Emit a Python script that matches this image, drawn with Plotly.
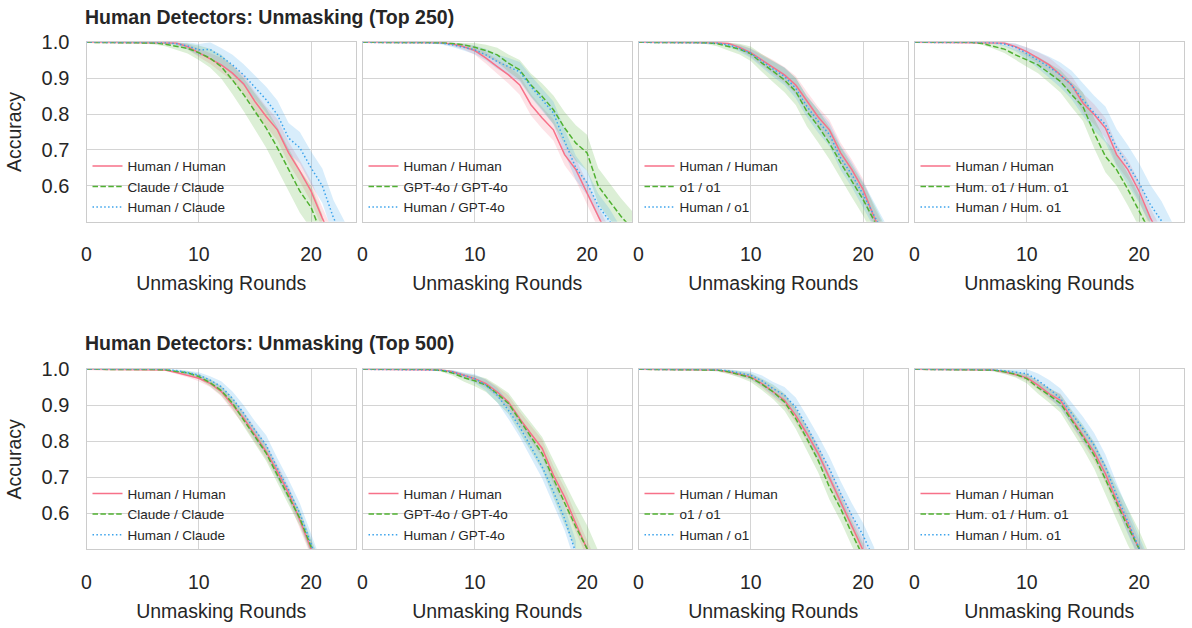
import plotly.graph_objects as go

ROUNDS = list(range(25))

# ---------------- Top 250 ----------------
t250_claude_hh = [1, 1, 1, 1, 1, 1, 1, 0.999, 0.998, 0.988, 0.971, 0.956, 0.937, 0.914, 0.884, 0.835, 0.793, 0.756, 0.692, 0.641, 0.585, 0.51, 0.44]
t250_claude_hh_err = [0, 0, 0, 0, 0, 0, 0, 0.002, 0.004, 0.008, 0.012, 0.016, 0.02, 0.022, 0.025, 0.027, 0.028, 0.03, 0.03, 0.03, 0.03, 0.03, 0.03]
t250_claude_cc = [1, 1, 1, 1, 1, 1, 0.998, 0.995, 0.99, 0.983, 0.971, 0.956, 0.932, 0.895, 0.854, 0.807, 0.761, 0.706, 0.645, 0.585, 0.54, 0.46]
t250_claude_cc_err = [0, 0, 0, 0, 0, 0.002, 0.004, 0.006, 0.01, 0.014, 0.02, 0.026, 0.033, 0.04, 0.046, 0.05, 0.055, 0.058, 0.06, 0.06, 0.06, 0.06]
t250_claude_hc = [1, 1, 1, 1, 1, 1, 1, 0.999, 0.996, 0.99, 0.979, 0.98, 0.96, 0.937, 0.909, 0.875, 0.84, 0.798, 0.733, 0.706, 0.65, 0.6, 0.51, 0.45]
t250_claude_hc_err = [0, 0, 0, 0, 0, 0, 0, 0.002, 0.004, 0.01, 0.016, 0.02, 0.024, 0.028, 0.03, 0.033, 0.036, 0.04, 0.042, 0.044, 0.046, 0.048, 0.05, 0.05]

t250_gpt_hh = [1, 1, 1, 1, 1, 1, 1, 0.999, 0.995, 0.988, 0.977, 0.956, 0.932, 0.909, 0.881, 0.826, 0.789, 0.756, 0.687, 0.645, 0.58, 0.511, 0.45]
t250_gpt_hh_err = [0, 0, 0, 0, 0, 0, 0, 0.002, 0.005, 0.008, 0.012, 0.016, 0.02, 0.024, 0.027, 0.03, 0.03, 0.03, 0.03, 0.03, 0.03, 0.03, 0.03]
t250_gpt_gg = [1, 1, 1, 1, 1, 1, 1, 0.999, 0.997, 0.993, 0.986, 0.977, 0.965, 0.942, 0.923, 0.881, 0.849, 0.812, 0.761, 0.719, 0.692, 0.599, 0.557, 0.516, 0.48]
t250_gpt_gg_err = [0, 0, 0, 0, 0, 0, 0, 0.002, 0.004, 0.008, 0.012, 0.016, 0.02, 0.024, 0.028, 0.032, 0.036, 0.04, 0.045, 0.05, 0.05, 0.05, 0.05, 0.05, 0.05]
t250_gpt_hg = [1, 1, 1, 1, 1, 1, 0.999, 0.998, 0.993, 0.986, 0.979, 0.965, 0.946, 0.932, 0.918, 0.877, 0.84, 0.803, 0.724, 0.65, 0.608, 0.544, 0.502, 0.45]
t250_gpt_hg_err = [0, 0, 0, 0, 0, 0, 0.002, 0.004, 0.006, 0.009, 0.012, 0.016, 0.02, 0.024, 0.027, 0.03, 0.03, 0.032, 0.034, 0.034, 0.034, 0.034, 0.034, 0.034]

t250_o1_hh = [1, 1, 1, 1, 1, 1, 1, 0.999, 0.997, 0.986, 0.971, 0.951, 0.931, 0.909, 0.881, 0.835, 0.792, 0.756, 0.692, 0.645, 0.59, 0.511, 0.45]
t250_o1_hh_err = [0, 0, 0, 0, 0, 0, 0, 0.002, 0.004, 0.008, 0.012, 0.016, 0.02, 0.022, 0.025, 0.027, 0.028, 0.028, 0.028, 0.028, 0.028, 0.028, 0.028]
t250_o1_oo = [1, 1, 1, 1, 1, 1, 0.999, 0.996, 0.988, 0.981, 0.968, 0.942, 0.919, 0.895, 0.863, 0.807, 0.766, 0.719, 0.664, 0.613, 0.562, 0.502, 0.44]
t250_o1_oo_err = [0, 0, 0, 0, 0, 0.002, 0.004, 0.007, 0.011, 0.015, 0.02, 0.025, 0.03, 0.034, 0.038, 0.042, 0.045, 0.045, 0.045, 0.045, 0.045, 0.045, 0.045]
t250_o1_ho = [1, 1, 1, 1, 1, 1, 1, 0.998, 0.993, 0.983, 0.969, 0.946, 0.925, 0.905, 0.872, 0.821, 0.78, 0.743, 0.678, 0.631, 0.576, 0.516, 0.46]
t250_o1_ho_err = [0, 0, 0, 0, 0, 0, 0, 0.002, 0.005, 0.009, 0.013, 0.017, 0.021, 0.025, 0.028, 0.03, 0.032, 0.033, 0.034, 0.035, 0.035, 0.035, 0.035]

t250_hum_hh = [1, 1, 1, 1, 1, 1, 1, 0.999, 0.998, 0.988, 0.974, 0.956, 0.937, 0.909, 0.881, 0.831, 0.799, 0.761, 0.687, 0.645, 0.585, 0.511, 0.45]
t250_hum_hh_err = [0, 0, 0, 0, 0, 0, 0, 0.002, 0.004, 0.008, 0.012, 0.016, 0.02, 0.022, 0.025, 0.027, 0.028, 0.028, 0.028, 0.028, 0.028, 0.028, 0.028]
t250_hum_mm = [1, 1, 1, 1, 1, 1, 0.997, 0.99, 0.981, 0.965, 0.951, 0.937, 0.914, 0.891, 0.854, 0.821, 0.747, 0.682, 0.645, 0.59, 0.53, 0.47]
t250_hum_mm_err = [0, 0, 0, 0, 0, 0.002, 0.004, 0.007, 0.011, 0.015, 0.019, 0.023, 0.027, 0.031, 0.035, 0.04, 0.042, 0.044, 0.045, 0.045, 0.045, 0.045]
t250_hum_hm = [1, 1, 1, 1, 1, 1, 1, 0.999, 0.995, 0.986, 0.969, 0.951, 0.931, 0.909, 0.881, 0.84, 0.803, 0.771, 0.706, 0.659, 0.608, 0.548, 0.502, 0.44]
t250_hum_hm_err = [0, 0, 0, 0, 0, 0, 0, 0.003, 0.006, 0.011, 0.017, 0.023, 0.029, 0.035, 0.04, 0.045, 0.048, 0.05, 0.052, 0.054, 0.055, 0.055, 0.055, 0.055]

# ---------------- Top 500 ----------------
t500_claude_hh = [1, 1, 1, 1, 1, 1, 1, 0.998, 0.991, 0.984, 0.975, 0.961, 0.938, 0.901, 0.864, 0.818, 0.771, 0.716, 0.656, 0.581, 0.5, 0.42]
t500_claude_hh_err = [0, 0, 0, 0, 0, 0, 0, 0.002, 0.004, 0.006, 0.008, 0.01, 0.013, 0.016, 0.018, 0.02, 0.02, 0.02, 0.02, 0.02, 0.02, 0.02]
t500_claude_cc = [1, 1, 1, 1, 1, 1, 1, 0.999, 0.994, 0.99, 0.98, 0.963, 0.941, 0.906, 0.859, 0.813, 0.767, 0.706, 0.646, 0.586, 0.507, 0.43]
t500_claude_cc_err = [0, 0, 0, 0, 0, 0, 0, 0.002, 0.003, 0.005, 0.007, 0.01, 0.013, 0.016, 0.018, 0.02, 0.022, 0.022, 0.022, 0.022, 0.022, 0.022]
t500_claude_hc = [1, 1, 1, 1, 1, 1, 1, 1, 0.997, 0.991, 0.984, 0.97, 0.952, 0.919, 0.878, 0.831, 0.79, 0.725, 0.665, 0.6, 0.517, 0.43]
t500_claude_hc_err = [0, 0, 0, 0, 0, 0, 0, 0, 0.003, 0.005, 0.008, 0.011, 0.015, 0.019, 0.022, 0.025, 0.027, 0.028, 0.028, 0.028, 0.028, 0.028]

t500_gpt_hh = [1, 1, 1, 1, 1, 1, 1, 0.998, 0.993, 0.983, 0.974, 0.96, 0.937, 0.909, 0.863, 0.821, 0.78, 0.706, 0.645, 0.571, 0.502, 0.43]
t500_gpt_hh_err = [0, 0, 0, 0, 0, 0, 0, 0.002, 0.004, 0.006, 0.009, 0.012, 0.015, 0.018, 0.02, 0.022, 0.024, 0.025, 0.025, 0.025, 0.025, 0.025]
t500_gpt_gg = [1, 1, 1, 1, 1, 1, 1, 0.997, 0.99, 0.977, 0.968, 0.956, 0.932, 0.905, 0.858, 0.812, 0.766, 0.696, 0.627, 0.562, 0.502, 0.43]
t500_gpt_gg_err = [0, 0, 0, 0, 0, 0, 0.002, 0.004, 0.007, 0.011, 0.015, 0.019, 0.024, 0.029, 0.034, 0.04, 0.046, 0.052, 0.058, 0.062, 0.065, 0.065]
t500_gpt_hg = [1, 1, 1, 1, 1, 1, 1, 0.998, 0.993, 0.983, 0.974, 0.956, 0.928, 0.886, 0.84, 0.784, 0.729, 0.66, 0.585, 0.49]
t500_gpt_hg_err = [0, 0, 0, 0, 0, 0, 0, 0.002, 0.005, 0.008, 0.012, 0.016, 0.02, 0.024, 0.028, 0.03, 0.032, 0.033, 0.033, 0.033]

t500_o1_hh = [1, 1, 1, 1, 1, 1, 1, 0.998, 0.993, 0.986, 0.979, 0.96, 0.937, 0.914, 0.872, 0.821, 0.766, 0.701, 0.636, 0.571, 0.502, 0.43]
t500_o1_hh_err = [0, 0, 0, 0, 0, 0, 0, 0.002, 0.004, 0.006, 0.008, 0.011, 0.014, 0.017, 0.02, 0.022, 0.024, 0.025, 0.025, 0.025, 0.025, 0.025]
t500_o1_oo = [1, 1, 1, 1, 1, 1, 1, 0.998, 0.993, 0.986, 0.977, 0.958, 0.937, 0.909, 0.863, 0.807, 0.747, 0.673, 0.613, 0.544, 0.48]
t500_o1_oo_err = [0, 0, 0, 0, 0, 0, 0.002, 0.004, 0.006, 0.009, 0.012, 0.016, 0.02, 0.024, 0.028, 0.032, 0.034, 0.035, 0.035, 0.035, 0.035]
t500_o1_ho = [1, 1, 1, 1, 1, 1, 1, 0.999, 0.996, 0.989, 0.983, 0.968, 0.946, 0.928, 0.895, 0.84, 0.784, 0.724, 0.655, 0.594, 0.539, 0.47]
t500_o1_ho_err = [0, 0, 0, 0, 0, 0, 0, 0.002, 0.004, 0.007, 0.011, 0.015, 0.019, 0.023, 0.027, 0.03, 0.032, 0.033, 0.034, 0.034, 0.034, 0.034]

t500_hum_hh = [1, 1, 1, 1, 1, 1, 1, 0.998, 0.993, 0.986, 0.977, 0.956, 0.932, 0.914, 0.863, 0.817, 0.77, 0.71, 0.636, 0.571, 0.502, 0.43]
t500_hum_hh_err = [0, 0, 0, 0, 0, 0, 0, 0.002, 0.004, 0.006, 0.009, 0.012, 0.015, 0.018, 0.02, 0.022, 0.024, 0.025, 0.025, 0.025, 0.025, 0.025]
t500_hum_mm = [1, 1, 1, 1, 1, 1, 1, 0.998, 0.993, 0.986, 0.974, 0.949, 0.928, 0.905, 0.858, 0.812, 0.761, 0.696, 0.627, 0.562, 0.502, 0.43]
t500_hum_mm_err = [0, 0, 0, 0, 0, 0, 0.002, 0.004, 0.006, 0.009, 0.013, 0.017, 0.021, 0.025, 0.029, 0.033, 0.037, 0.041, 0.045, 0.05, 0.05, 0.05]
t500_hum_hm = [1, 1, 1, 1, 1, 1, 1, 0.999, 0.996, 0.992, 0.988, 0.969, 0.946, 0.919, 0.877, 0.835, 0.789, 0.729, 0.65, 0.576, 0.506, 0.43]
t500_hum_hm_err = [0, 0, 0, 0, 0, 0, 0, 0.002, 0.005, 0.009, 0.014, 0.019, 0.024, 0.028, 0.031, 0.033, 0.034, 0.034, 0.034, 0.034, 0.034, 0.034]

ROW_TITLES = ["Human Detectors: Unmasking (Top 250)", "Human Detectors: Unmasking (Top 500)"]
PANEL_LABELS = [
    ["Human / Human", "Claude / Claude", "Human / Claude"],
    ["Human / Human", "GPT-4o / GPT-4o", "Human / GPT-4o"],
    ["Human / Human", "o1 / o1", "Human / o1"],
    ["Human / Human", "Hum. o1 / Hum. o1", "Human / Hum. o1"],
]
PANELS = [
    [(t250_claude_hh, t250_claude_hh_err), (t250_claude_cc, t250_claude_cc_err), (t250_claude_hc, t250_claude_hc_err)],
    [(t250_gpt_hh, t250_gpt_hh_err), (t250_gpt_gg, t250_gpt_gg_err), (t250_gpt_hg, t250_gpt_hg_err)],
    [(t250_o1_hh, t250_o1_hh_err), (t250_o1_oo, t250_o1_oo_err), (t250_o1_ho, t250_o1_ho_err)],
    [(t250_hum_hh, t250_hum_hh_err), (t250_hum_mm, t250_hum_mm_err), (t250_hum_hm, t250_hum_hm_err)],
    [(t500_claude_hh, t500_claude_hh_err), (t500_claude_cc, t500_claude_cc_err), (t500_claude_hc, t500_claude_hc_err)],
    [(t500_gpt_hh, t500_gpt_hh_err), (t500_gpt_gg, t500_gpt_gg_err), (t500_gpt_hg, t500_gpt_hg_err)],
    [(t500_o1_hh, t500_o1_hh_err), (t500_o1_oo, t500_o1_oo_err), (t500_o1_ho, t500_o1_ho_err)],
    [(t500_hum_hh, t500_hum_hh_err), (t500_hum_mm, t500_hum_mm_err), (t500_hum_hm, t500_hum_hm_err)],
]

COLORS = ["#f77189", "#50b131", "#3ba3ec"]
FILLS = ["rgba(247,113,137,0.2)", "rgba(80,177,49,0.2)", "rgba(59,163,236,0.2)"]
DASHES = ["solid", "5.5px,2.4px", "1.5px,2.4px"]

FONT = "Liberation Sans, Arial, Helvetica, sans-serif"
TXT = "#262626"
GRID = "#d4d4d4"

W, H = 1192, 628
ML, MR, MT, MB = 86, 8, 42, 78
PW, PH = W - ML - MR, H - MT - MB

def clamp(v):
    return max(0.0, min(1.0, v))

def px2x(px):
    return (px - ML) / PW

def py2y(py):
    return (H - MB - py) / PH

COL_PX = [(86.5, 356.0), (362.5, 632.0), (638.5, 908.0), (914.5, 1184.0)]
ROW_PX = [(42.3, 221.7), (369.3, 549.3)]

fig = go.Figure()
layout = {}

for p in range(8):
    r, c = divmod(p, 4)
    idx = p + 1
    xa = "x" if idx == 1 else f"x{idx}"
    ya = "y" if idx == 1 else f"y{idx}"
    leg = "legend" if idx == 1 else f"legend{idx}"
    series = PANELS[p]
    labels = PANEL_LABELS[c]
    for s, (vals, errs) in enumerate(series):
        xs = ROUNDS[:len(vals)]
        up = [min(1.0, v + e) for v, e in zip(vals, errs)]
        lo = [v - e for v, e in zip(vals, errs)]
        fig.add_trace(go.Scatter(
            x=xs + xs[::-1], y=up + lo[::-1], fill="toself", fillcolor=FILLS[s],
            line=dict(width=0), mode="lines", hoverinfo="skip", showlegend=False,
            xaxis=xa, yaxis=ya))
    for s, (vals, errs) in enumerate(series):
        xs = ROUNDS[:len(vals)]
        fig.add_trace(go.Scatter(
            x=xs, y=vals, mode="lines", name=labels[s],
            line=dict(color=COLORS[s], width=1.5, dash=DASHES[s]),
            xaxis=xa, yaxis=ya, legend=leg))

    x0, x1 = COL_PX[c]
    y0, y1 = ROW_PX[r]
    axis_common = dict(showline=True, mirror=True, linecolor="#cccccc", linewidth=1.2,
                       showgrid=True, gridcolor=GRID, gridwidth=1, zeroline=False,
                       ticks="", tickfont=dict(size=19.5, color=TXT, family=FONT))
    layout["xaxis" if idx == 1 else f"xaxis{idx}"] = dict(
        axis_common, domain=[clamp(px2x(x0)), clamp(px2x(x1))], range=[0, 24], tickvals=[0, 10, 20],
        anchor=ya, ticklabelstandoff=15,
        title=dict(text="Unmasking Rounds", font=dict(size=19.5, color=TXT, family=FONT), standoff=12))
    ydict = dict(
        axis_common, domain=[clamp(py2y(y1)), clamp(py2y(y0))], range=[0.5, 1.0],
        tickvals=[0.6, 0.7, 0.8, 0.9, 1.0], ticktext=["0.6", "0.7", "0.8", "0.9", "1.0"],
        anchor=xa, showticklabels=(c == 0), ticklabelstandoff=12,
        tickfont=dict(size=20, color=TXT, family=FONT))
    if c == 0:
        ydict["title"] = dict(text="Accuracy", font=dict(size=19.5, color=TXT, family=FONT), standoff=14)
    layout["yaxis" if idx == 1 else f"yaxis{idx}"] = ydict
    layout[leg] = dict(
        x=px2x(x0 + 1), y=py2y(y1 + 1), xanchor="left", yanchor="bottom",
        bgcolor="rgba(0,0,0,0)", borderwidth=0, font=dict(size=13.5, color=TXT, family=FONT),
        tracegroupgap=0, itemwidth=30)

annotations = []
for r in range(2):
    annotations.append(dict(
        text=f"<b>{ROW_TITLES[r]}</b>", x=px2x(83), y=py2y([17, 343][r]), xref="paper", yref="paper",
        xanchor="left", yanchor="middle", showarrow=False,
        font=dict(size=19.5, color=TXT, family=FONT)))

fig.update_layout(
    width=W, height=H, margin=dict(l=ML, r=MR, t=MT, b=MB),
    paper_bgcolor="white", plot_bgcolor="white",
    font=dict(family=FONT, color=TXT), annotations=annotations, **layout)

fig.write_html("out.html", config={"displayModeBar": False},
               post_script="document.body.style.margin='0px';document.body.style.overflow='hidden';")
